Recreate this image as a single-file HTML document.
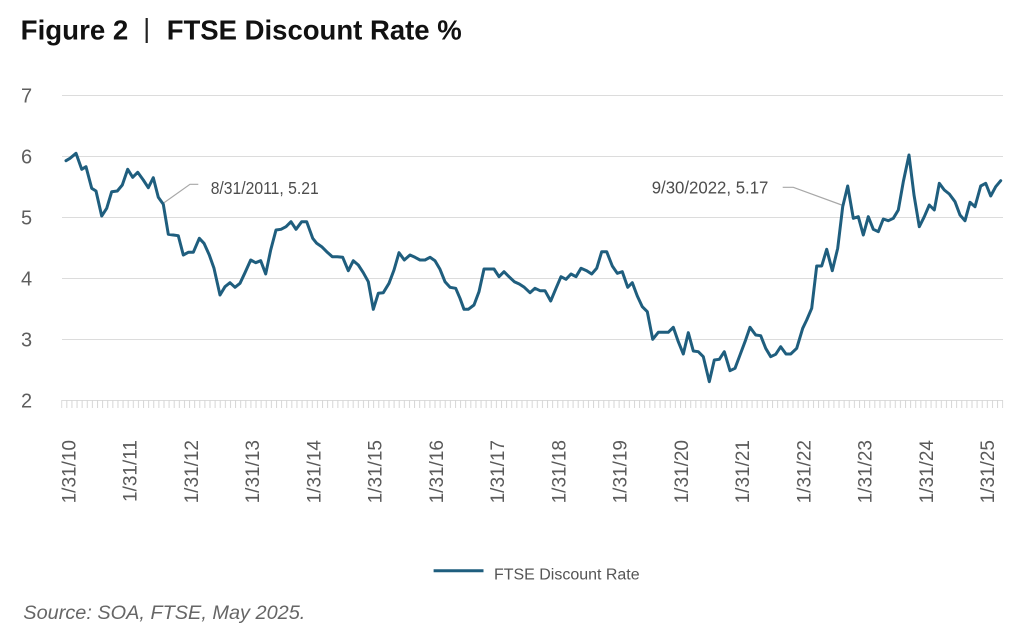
<!DOCTYPE html>
<html>
<head>
<meta charset="utf-8">
<style>
  html,body{margin:0;padding:0;background:#fff;}
  svg{display:block;}
  text{font-family:"Liberation Sans",Arial,sans-serif;}
</style>
</head>
<body>
<svg width="1024" height="641" viewBox="0 0 1024 641" xmlns="http://www.w3.org/2000/svg">
  <defs>
    <pattern id="ticks" patternUnits="userSpaceOnUse" x="61.2" y="400" width="5.114" height="9">
      <rect x="0" y="0" width="1" height="9" fill="#d6d6d6"/>
    </pattern>
  </defs>
  <rect width="1024" height="641" fill="#fff"/>

  <!-- Title -->
  <text x="20.7" y="39.3" font-size="27.5" font-weight="bold" fill="#111" textLength="107.6" lengthAdjust="spacingAndGlyphs">Figure 2</text>
  <rect x="145.6" y="18" width="2.2" height="25" fill="#222"/>
  <text x="166.7" y="39.3" font-size="27.5" font-weight="bold" fill="#111" textLength="295" lengthAdjust="spacingAndGlyphs">FTSE Discount Rate %</text>

  <!-- Gridlines -->
  <g stroke="#dcdcdc" stroke-width="1">
    <line x1="62" y1="95.5" x2="1003" y2="95.5"/>
    <line x1="62" y1="156.5" x2="1003" y2="156.5"/>
    <line x1="62" y1="217.5" x2="1003" y2="217.5"/>
    <line x1="62" y1="278.5" x2="1003" y2="278.5"/>
    <line x1="62" y1="339.5" x2="1003" y2="339.5"/>
    <line x1="62" y1="400.5" x2="1003" y2="400.5"/>
  </g>
  <rect x="61.2" y="400" width="942" height="8" fill="url(#ticks)"/>

  <!-- Y labels -->
  <g font-size="20" fill="#5e5e5e" text-anchor="middle">
    <text x="26.5" y="102.5">7</text>
    <text x="26.5" y="163.5">6</text>
    <text x="26.5" y="224.5">5</text>
    <text x="26.5" y="285.5">4</text>
    <text x="26.5" y="346.5">3</text>
    <text x="26.5" y="407.5">2</text>
  </g>

  <!-- X labels -->
  <g font-size="19" fill="#5a5a5a" text-anchor="end">
    <text transform="translate(75.3,440) rotate(-90)">1/31/10</text>
    <text transform="translate(136.5,440) rotate(-90)">1/31/11</text>
    <text transform="translate(197.8,440) rotate(-90)">1/31/12</text>
    <text transform="translate(259,440) rotate(-90)">1/31/13</text>
    <text transform="translate(320.3,440) rotate(-90)">1/31/14</text>
    <text transform="translate(381.5,440) rotate(-90)">1/31/15</text>
    <text transform="translate(442.8,440) rotate(-90)">1/31/16</text>
    <text transform="translate(504,440) rotate(-90)">1/31/17</text>
    <text transform="translate(565.3,440) rotate(-90)">1/31/18</text>
    <text transform="translate(626.5,440) rotate(-90)">1/31/19</text>
    <text transform="translate(687.8,440) rotate(-90)">1/31/20</text>
    <text transform="translate(749,440) rotate(-90)">1/31/21</text>
    <text transform="translate(810.3,440) rotate(-90)">1/31/22</text>
    <text transform="translate(871.5,440) rotate(-90)">1/31/23</text>
    <text transform="translate(932.8,440) rotate(-90)">1/31/24</text>
    <text transform="translate(994,440) rotate(-90)">1/31/25</text>
  </g>

  <!-- Annotation leaders -->
  <polyline points="163.3,203.3 190,184.3 198.3,184.3" fill="none" stroke="#a8a8a8" stroke-width="1.2"/>
  <polyline points="782.7,187.3 793.3,187.3 841.7,205" fill="none" stroke="#a8a8a8" stroke-width="1.2"/>

  <!-- Data line -->
  <polyline fill="none" stroke="#1f5e7e" stroke-width="3" stroke-linejoin="round" stroke-linecap="round" points="
66,160.7 70,158.3 76,153.3 81.7,169.3 86,166.7 91.7,188.3 96,191 101.7,216 106.7,208.3 111.7,191.7
117.3,191 122.3,185 127.7,169.3 132.7,177.3 137.7,172.3 143.3,180 148.3,187.7 153.3,177.7 158.3,197.3 163.3,204.3
168.3,234.3 173.3,235 178.3,235.7 183.3,255 188.3,252.3 193.3,252.3 199.3,238.3 204,243.3 209.3,255 214,268.3
220,295 225,286.7 230,282.7 235,287.3 240,283.3 245,272.7 250.7,260 255.7,262.7 260.7,260.7 265.7,274
270.7,250 276,230 281,229.3 286,226.7 291,221.7 296,229.3 301.7,221.7 306.7,221.7
312.7,238.3 316.7,243.3 321.7,246.7 326.7,251.7 332.3,256.7 337.3,256.7 342.7,257.3 348.3,270.7 353.3,260.7 358.3,265
363.3,272.7 368.3,281.7 373.3,309.3 378.3,293.3 383.3,292.7 389,283.3 394,270 399,252.7 404.3,260 410,255
415,257.3 420,260 425,260 430,257.3 435,260.7 440,269.3 445,281.7 450,287.3 455.7,288.3 460,298.3
464,309.3 468.3,309.3 474,305 479,291.7 484,269 489,269 494,269 499,276.7 504,271.7 509,276.7
514.3,281.7 519.3,284 524.3,287.3 530,292.7 535,288.3 540,290.7
545,290.7 550.7,301 556,288.3 561,276.7 566,279.3 571,274 576,276.7 581,268.3 586.7,270.7 591.7,274
596.7,268.3 601.7,251.7 606.7,251.7 612.3,266 617.3,273.3 622.3,271.7 627.7,287.3 632.3,282.7 637.3,296 642.3,306.7
647.3,311.7 652.7,339.3 658.3,332.3 663.3,332.3 668.3,332.3 673.3,327.3 678.3,341.7 683.3,354 688.3,332.7 693.3,351
698.3,351.7 703.3,356.7 709.3,381.7 714.3,360 719.3,359.3 724.3,351.7 730,370.7 735,368.3 740,355 745,341.7
750,327.3 755.7,335 760.7,335.7 765.7,348.3 770.7,356.7 775.7,354.3 780.7,346.7 786,354 790.7,354
796.7,348.3 802.7,328.3 806.7,320 811.7,308.3 816.7,266 821.7,266 826.7,249.3 832.3,270.7 837.7,248.3 842.7,206.7
847.7,186 853.3,218.3 858.3,216.7 863.3,235 868.3,216.7 873.3,229.3 878.3,231.7 883.3,219 888.3,220.7 893.3,218.3
898.3,210 903.3,181.7 909,155 914,195 919.3,226.7 924.3,216.7 929.3,205 934.3,210 939.3,183.3 944.3,190
949.3,194 955,201.7 960,215 965,220.7 970,202.3 975,206.7 980.7,186 985.7,183.3 990.7,196 995.7,186.7 1000.7,180.7"/>

  <!-- Annotation texts -->
  <text x="210.7" y="194" font-size="17.5" fill="#4d4d4d" textLength="108" lengthAdjust="spacingAndGlyphs">8/31/2011, 5.21</text>
  <text x="651.7" y="193.5" font-size="17.5" fill="#4d4d4d" textLength="116.7" lengthAdjust="spacingAndGlyphs">9/30/2022, 5.17</text>

  <!-- Legend -->
  <line x1="433.6" y1="570.7" x2="483.5" y2="570.7" stroke="#1f5e7e" stroke-width="3"/>
  <text x="494" y="579.3" font-size="15.5" fill="#555" textLength="145.6" lengthAdjust="spacingAndGlyphs">FTSE Discount Rate</text>

  <!-- Source -->
  <text x="23.3" y="619" font-size="19" font-style="italic" fill="#666" textLength="282" lengthAdjust="spacingAndGlyphs">Source: SOA, FTSE, May 2025.</text>
</svg>
</body>
</html>
